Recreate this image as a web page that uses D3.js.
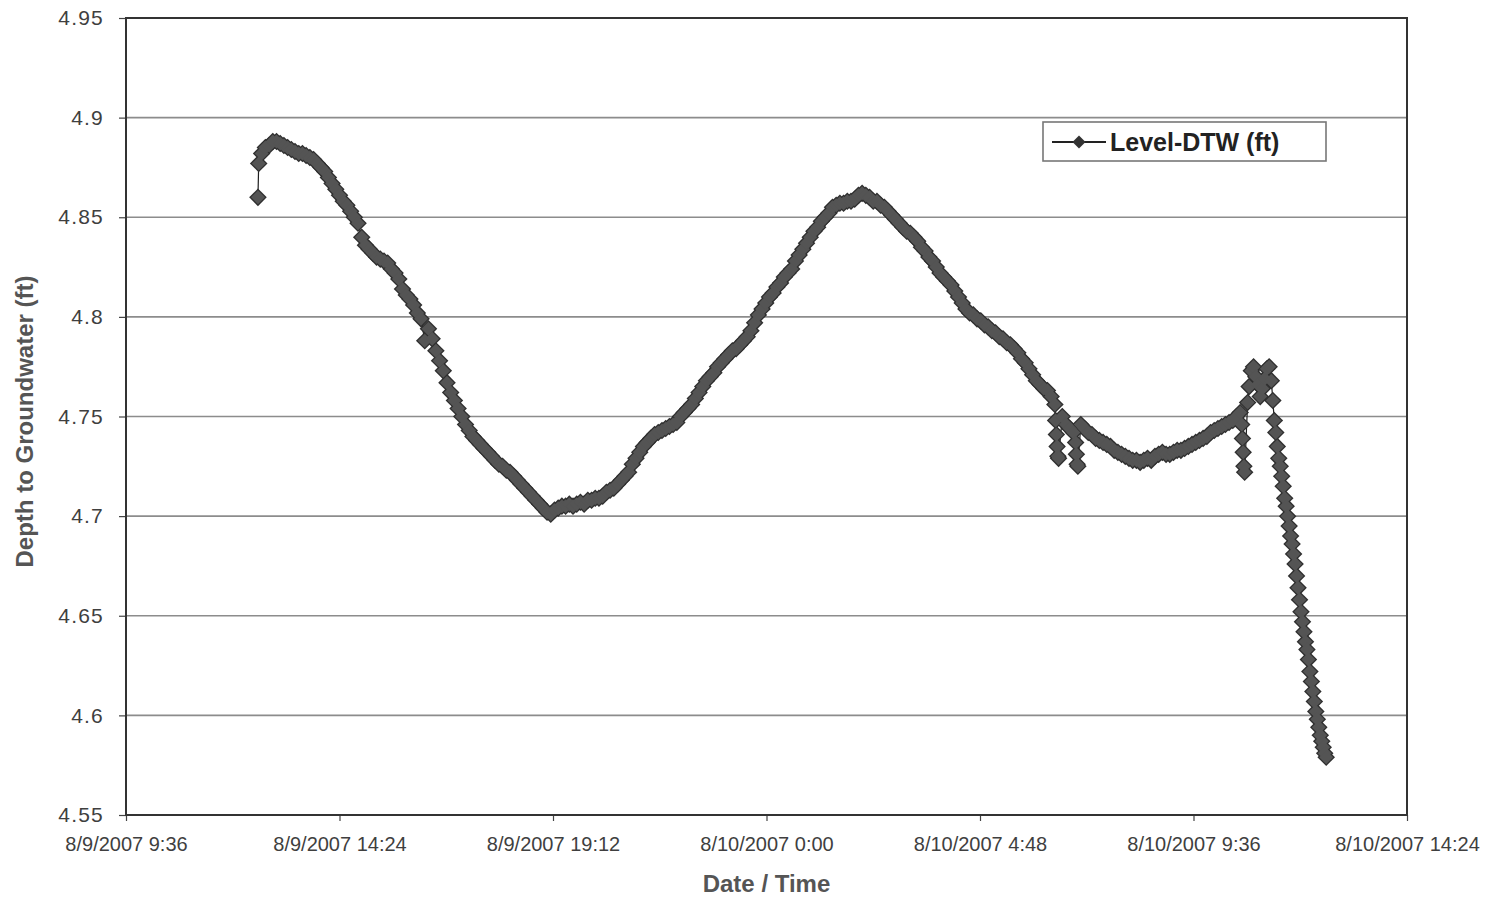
<!DOCTYPE html>
<html><head><meta charset="utf-8">
<script src="https://cdn.jsdelivr.net/npm/d3@7"></script>
<style>
body{margin:0;background:#fff}
svg{display:block}
text{font-family:"Liberation Sans",Arial,sans-serif}
</style>
</head><body>
<svg id="chart" width="1489" height="898"></svg>
<script>
// ---- data ----
const times = [
"8/9 12:34","8/9 12:35","8/9 12:39","8/9 12:44","8/9 12:49","8/9 12:54","8/9 12:59","8/9 13:04","8/9 13:09","8/9 13:14","8/9 13:19","8/9 13:24","8/9 13:29",
"8/9 13:34","8/9 13:39","8/9 13:44","8/9 13:49","8/9 13:54","8/9 13:59","8/9 14:04","8/9 14:09","8/9 14:14","8/9 14:19","8/9 14:24","8/9 14:29",
"8/9 14:34","8/9 14:39","8/9 14:44","8/9 14:49","8/9 14:54","8/9 14:59","8/9 15:04","8/9 15:09","8/9 15:14","8/9 15:19","8/9 15:24","8/9 15:29",
"8/9 15:34","8/9 15:39","8/9 15:44","8/9 15:49","8/9 15:54","8/9 15:59","8/9 16:04","8/9 16:09","8/9 16:14","8/9 16:19","8/9 16:24","8/9 16:29",
"8/9 16:34","8/9 16:39","8/9 16:44","8/9 16:49","8/9 16:54","8/9 16:59","8/9 17:04","8/9 17:09","8/9 17:14","8/9 17:19","8/9 17:24","8/9 17:29",
"8/9 17:34","8/9 17:39","8/9 17:44","8/9 17:49","8/9 17:54","8/9 17:59","8/9 18:04","8/9 18:09","8/9 18:14","8/9 18:19","8/9 18:24","8/9 18:29",
"8/9 18:34","8/9 18:39","8/9 18:44","8/9 18:49","8/9 18:54","8/9 18:59","8/9 19:04","8/9 19:09","8/9 19:14","8/9 19:19","8/9 19:24","8/9 19:29",
"8/9 19:34","8/9 19:39","8/9 19:44","8/9 19:49","8/9 19:54","8/9 19:59","8/9 20:04","8/9 20:09","8/9 20:14","8/9 20:19","8/9 20:24","8/9 20:29",
"8/9 20:34","8/9 20:39","8/9 20:44","8/9 20:49","8/9 20:54","8/9 20:59","8/9 21:04","8/9 21:09","8/9 21:14","8/9 21:19","8/9 21:24","8/9 21:29",
"8/9 21:34","8/9 21:39","8/9 21:44","8/9 21:49","8/9 21:54","8/9 21:59","8/9 22:04","8/9 22:09","8/9 22:14","8/9 22:19","8/9 22:24","8/9 22:29",
"8/9 22:34","8/9 22:39","8/9 22:44","8/9 22:49","8/9 22:54","8/9 22:59","8/9 23:04","8/9 23:09","8/9 23:14","8/9 23:19","8/9 23:24","8/9 23:29",
"8/9 23:34","8/9 23:39","8/9 23:44","8/9 23:49","8/9 23:54","8/9 23:59","8/10 0:04","8/10 0:09","8/10 0:14","8/10 0:19","8/10 0:24","8/10 0:29",
"8/10 0:34","8/10 0:39","8/10 0:44","8/10 0:49","8/10 0:54","8/10 0:59","8/10 1:04","8/10 1:09","8/10 1:14","8/10 1:19","8/10 1:24","8/10 1:29",
"8/10 1:34","8/10 1:39","8/10 1:44","8/10 1:49","8/10 1:54","8/10 1:59","8/10 2:04","8/10 2:09","8/10 2:14","8/10 2:19","8/10 2:24","8/10 2:29",
"8/10 2:34","8/10 2:39","8/10 2:44","8/10 2:49","8/10 2:54","8/10 2:59","8/10 3:04","8/10 3:09","8/10 3:14","8/10 3:19","8/10 3:24","8/10 3:29",
"8/10 3:34","8/10 3:39","8/10 3:44","8/10 3:49","8/10 3:54","8/10 3:59","8/10 4:04","8/10 4:09","8/10 4:14","8/10 4:19","8/10 4:24","8/10 4:29",
"8/10 4:34","8/10 4:39","8/10 4:44","8/10 4:49","8/10 4:54","8/10 4:59","8/10 5:04","8/10 5:09","8/10 5:14","8/10 5:19","8/10 5:24","8/10 5:29",
"8/10 5:34","8/10 5:39","8/10 5:44","8/10 5:49","8/10 5:54","8/10 5:59","8/10 6:04","8/10 6:09","8/10 6:14","8/10 6:19","8/10 6:24","8/10 6:29",
"8/10 6:30","8/10 6:31","8/10 6:32","8/10 6:33","8/10 6:34","8/10 6:39","8/10 6:44","8/10 6:49","8/10 6:54",
"8/10 6:57","8/10 6:58","8/10 6:59","8/10 7:00",
"8/10 7:04","8/10 7:09","8/10 7:14","8/10 7:19","8/10 7:24","8/10 7:29","8/10 7:34","8/10 7:39","8/10 7:44","8/10 7:49","8/10 7:54","8/10 7:59",
"8/10 8:04","8/10 8:09","8/10 8:14","8/10 8:19","8/10 8:24","8/10 8:29","8/10 8:34","8/10 8:39","8/10 8:44","8/10 8:49","8/10 8:54","8/10 8:59",
"8/10 9:04","8/10 9:09","8/10 9:14","8/10 9:19","8/10 9:24","8/10 9:29","8/10 9:34","8/10 9:39","8/10 9:44","8/10 9:49","8/10 9:54","8/10 9:59",
"8/10 10:04","8/10 10:09","8/10 10:14","8/10 10:19","8/10 10:24","8/10 10:29","8/10 10:34","8/10 10:39",
"8/10 10:41","8/10 10:42","8/10 10:43","8/10 10:44","8/10 10:45",
"8/10 10:49","8/10 10:51","8/10 10:54","8/10 10:57","8/10 11:00","8/10 11:03","8/10 11:06","8/10 11:09","8/10 11:12","8/10 11:15","8/10 11:18","8/10 11:21",
"8/10 11:23","8/10 11:25","8/10 11:27","8/10 11:29","8/10 11:31","8/10 11:33","8/10 11:35","8/10 11:37","8/10 11:39","8/10 11:41","8/10 11:43","8/10 11:45",
"8/10 11:47","8/10 11:49","8/10 11:51","8/10 11:53","8/10 11:55","8/10 11:57","8/10 11:59","8/10 12:01","8/10 12:03","8/10 12:05","8/10 12:07","8/10 12:09",
"8/10 12:11","8/10 12:13","8/10 12:15","8/10 12:17","8/10 12:19","8/10 12:21","8/10 12:23","8/10 12:25","8/10 12:27","8/10 12:29","8/10 12:31","8/10 12:33","8/10 12:35"
];
const levels = [
4.860,4.877,4.882,4.885,4.886,4.888,4.888,4.887,4.886,4.885,4.884,4.883,4.882,
4.882,4.881,4.880,4.879,4.877,4.875,4.873,4.870,4.867,4.864,4.861,4.858,
4.856,4.853,4.850,4.847,4.840,4.836,4.834,4.832,4.830,4.829,4.828,4.827,
4.824,4.822,4.819,4.814,4.811,4.809,4.806,4.802,4.799,4.788,4.794,4.789,
4.783,4.778,4.773,4.767,4.762,4.758,4.754,4.750,4.746,4.743,4.740,4.738,
4.736,4.734,4.732,4.730,4.728,4.726,4.725,4.723,4.722,4.720,4.718,4.716,
4.714,4.712,4.710,4.708,4.706,4.704,4.702,4.701,4.703,4.704,4.705,4.705,
4.706,4.705,4.706,4.707,4.706,4.708,4.708,4.709,4.709,4.710,4.712,4.713,
4.714,4.716,4.718,4.720,4.722,4.726,4.729,4.732,4.735,4.737,4.739,4.741,
4.742,4.743,4.744,4.745,4.746,4.747,4.750,4.752,4.754,4.756,4.759,4.762,
4.765,4.768,4.770,4.772,4.775,4.777,4.779,4.781,4.783,4.784,4.786,4.788,
4.790,4.793,4.797,4.801,4.804,4.807,4.810,4.812,4.815,4.817,4.820,4.822,
4.824,4.828,4.831,4.834,4.837,4.840,4.843,4.845,4.848,4.850,4.852,4.855,
4.856,4.857,4.857,4.858,4.858,4.859,4.861,4.862,4.861,4.860,4.858,4.858,
4.856,4.855,4.853,4.851,4.849,4.847,4.845,4.843,4.842,4.840,4.838,4.835,
4.833,4.830,4.828,4.825,4.822,4.820,4.818,4.816,4.813,4.810,4.807,4.804,
4.802,4.801,4.799,4.798,4.796,4.795,4.793,4.792,4.790,4.789,4.787,4.786,
4.784,4.782,4.779,4.777,4.774,4.771,4.768,4.766,4.764,4.763,4.760,4.756,
4.748,4.741,4.735,4.730,4.729,4.750,4.746,4.744,4.742,
4.737,4.731,4.726,4.725,
4.746,4.744,4.742,4.741,4.739,4.738,4.737,4.736,4.735,4.733,4.732,4.731,
4.730,4.729,4.728,4.728,4.727,4.728,4.729,4.728,4.730,4.731,4.732,4.731,
4.731,4.732,4.733,4.733,4.734,4.735,4.736,4.737,4.738,4.739,4.740,4.742,
4.743,4.744,4.745,4.746,4.747,4.748,4.750,4.752,
4.746,4.739,4.732,4.725,4.722,
4.757,4.765,4.773,4.775,4.770,4.766,4.760,4.764,4.769,4.774,4.775,4.768,
4.758,4.748,4.742,4.735,4.729,4.725,4.720,4.715,4.709,4.705,4.700,4.695,
4.690,4.686,4.681,4.676,4.670,4.664,4.658,4.652,4.647,4.642,4.637,4.633,
4.628,4.622,4.617,4.612,4.607,4.602,4.598,4.594,4.590,4.587,4.584,4.581,4.579
];
const yTicks = [4.55, 4.6, 4.65, 4.7, 4.75, 4.8, 4.85, 4.9, 4.95];
const xTickLabels = ["8/9/2007 9:36","8/9/2007 14:24","8/9/2007 19:12","8/10/2007 0:00","8/10/2007 4:48","8/10/2007 9:36","8/10/2007 14:24"];
const seriesName = "Level-DTW (ft)";
const yTitle = "Depth to Groundwater (ft)";
const xTitle = "Date / Time";

// ---- chart ----
const parseT = d3.timeParse("%m/%d/%Y %H:%M");
const tickDates = xTickLabels.map(parseT);
const data = times.map((t, i) => ({ t: parseT(t.replace(" ", "/2007 ")), v: levels[i] }));

const L = 126, R = 1407, T = 18, B = 815;
const x = d3.scaleTime().domain([tickDates[0], tickDates[tickDates.length - 1]]).range([L, R]);
const y = d3.scaleLinear().domain([4.55, 4.95]).range([B, T]);

const svg = d3.select("#chart");
svg.append("rect").attr("width", 1489).attr("height", 898).attr("fill", "#ffffff");

// gridlines
svg.append("g").selectAll("line").data(yTicks.slice(1, -1)).join("line")
  .attr("x1", L).attr("x2", R).attr("y1", d => y(d)).attr("y2", d => y(d))
  .attr("stroke", "#8c8c8c").attr("stroke-width", 1.6);

// y axis
const yAxis = svg.append("g").attr("transform", `translate(${L},0)`)
  .call(d3.axisLeft(y).tickValues(yTicks).tickFormat(d => String(+d.toFixed(2))).tickSize(7).tickPadding(15));
yAxis.select(".domain").remove();
yAxis.selectAll(".tick line").attr("stroke", "#444").attr("stroke-width", 1.2);
yAxis.selectAll(".tick text").attr("font-size", 21).attr("letter-spacing", 1.2).attr("fill", "#3f3f3f")
  .attr("font-family", "Liberation Sans, Arial, sans-serif");

// x axis
const xAxis = svg.append("g").attr("transform", `translate(0,${B})`)
  .call(d3.axisBottom(x).tickValues(tickDates).tickFormat(d3.timeFormat("%-m/%-d/%Y %-H:%M")).tickSize(6).tickPadding(16));
xAxis.select(".domain").remove();
xAxis.selectAll(".tick line").attr("stroke", "#444").attr("stroke-width", 1.2);
xAxis.selectAll(".tick text").attr("font-size", 20).attr("fill", "#3f3f3f")
  .attr("font-family", "Liberation Sans, Arial, sans-serif");

// plot border
svg.append("rect").attr("x", L).attr("y", T).attr("width", R - L).attr("height", B - T)
  .attr("fill", "none").attr("stroke", "#333").attr("stroke-width", 2);

// series line
const line = d3.line().x(d => x(d.t)).y(d => y(d.v));
svg.append("path").datum(data).attr("d", line).attr("fill", "none").attr("stroke", "#1e1e1e").attr("stroke-width", 1.2);

const diamond = r => `M0,${-r}L${r},0L0,${r}L${-r},0Z`;
// marker outlines then fills
svg.append("g").selectAll("path").data(data).join("path")
  .attr("d", diamond(8.8)).attr("transform", d => `translate(${x(d.t)},${y(d.v)})`)
  .attr("fill", "#2f2f2f");
svg.append("g").selectAll("path").data(data).join("path")
  .attr("d", diamond(7)).attr("transform", d => `translate(${x(d.t)},${y(d.v)})`)
  .attr("fill", "#545454");

// legend
const lg = svg.append("g");
lg.append("rect").attr("x", 1043).attr("y", 122).attr("width", 283).attr("height", 39)
  .attr("fill", "#fff").attr("stroke", "#777").attr("stroke-width", 1.6);
lg.append("line").attr("x1", 1052).attr("x2", 1106).attr("y1", 142).attr("y2", 142)
  .attr("stroke", "#222").attr("stroke-width", 2);
lg.append("path").attr("d", diamond(6.5)).attr("transform", "translate(1079,142)").attr("fill", "#333");
lg.append("text").attr("x", 1110).attr("y", 142).attr("dy", "0.36em").attr("font-size", 25)
  .attr("font-weight", "bold").attr("fill", "#222").text(seriesName);

// axis titles
svg.append("text").attr("transform", `translate(33,${(T + B) / 2 + 5}) rotate(-90)`)
  .attr("text-anchor", "middle").attr("font-size", 24).attr("font-weight", "bold").attr("fill", "#555").text(yTitle);
svg.append("text").attr("x", (L + R) / 2).attr("y", 892).attr("text-anchor", "middle")
  .attr("font-size", 24).attr("font-weight", "bold").attr("fill", "#555").text(xTitle);
</script>
</body></html>
